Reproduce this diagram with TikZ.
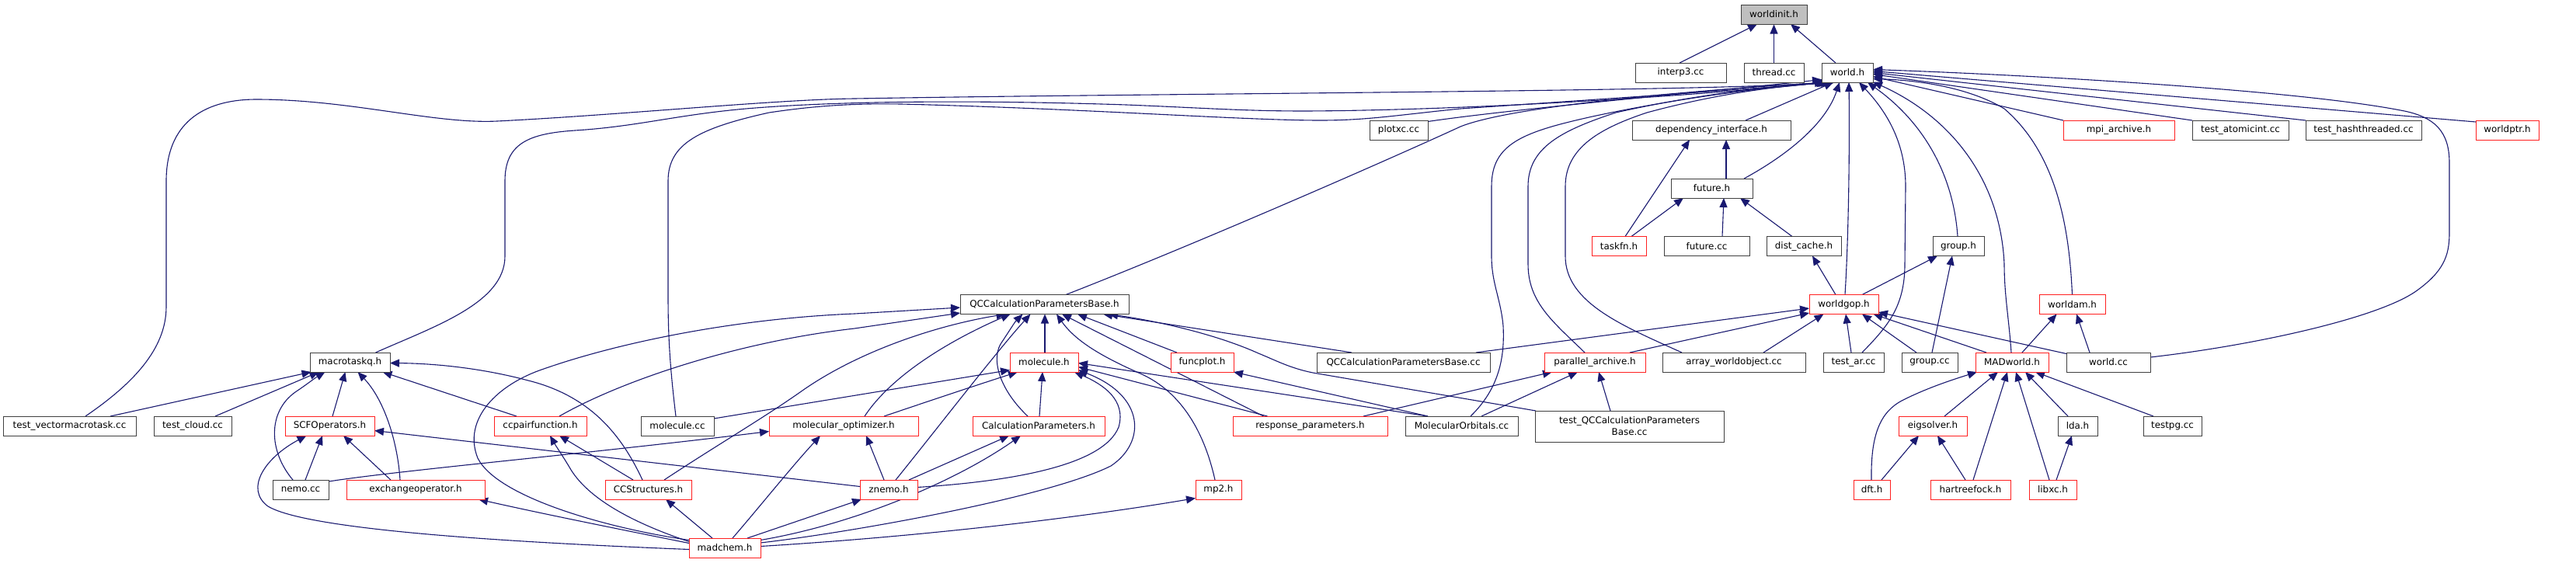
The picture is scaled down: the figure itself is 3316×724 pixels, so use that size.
\documentclass[tikz,border=0pt]{standalone}
\usepackage{fontspec}
\setmainfont{DejaVu Sans}
\usetikzlibrary{calc,arrows.meta}
\definecolor{edgeblue}{HTML}{191970}
\definecolor{boxgray}{HTML}{404040}
\definecolor{rootfill}{HTML}{BFBFBF}
\definecolor{boxred}{HTML}{FF2020}
\pgfdeclarelayer{bg}
\pgfdeclarelayer{edges}
\pgfsetlayers{bg,edges,main}
\tikzset{
 nbox/.style={draw=boxgray, line width=0.5pt, inner sep=0pt, minimum height=12.5pt, fill=white, font=\fontsize{5.95pt}{7.5pt}\selectfont},
 rbox/.style={nbox, draw=boxred},
 conn/.style={draw=edgeblue, line width=0.55pt, -{Triangle[length=6pt,width=5pt]}},
}
\begin{document}
\begin{tikzpicture}[x=0.5pt,y=-0.5pt]
\begin{pgfonlayer}{bg}
\path[use as bounding box, fill=white] (0,0) rectangle (3316,724);
\end{pgfonlayer}
% nodes
\node[nbox, minimum width=42.5pt, fill=rootfill] (worldinit) at (2283.5,18.5) {worldinit.h};
\node[nbox, minimum width=58.5pt] (interp3) at (2163.5,93.5) {interp3.cc};
\node[nbox, minimum width=38.5pt] (thread) at (2283.5,93.5) {thread.cc};
\node[nbox, minimum width=33pt] (worldh) at (2378,93.5) {world.h};
\node[nbox, minimum width=37.5pt] (plotxc) at (1800.5,167.5) {plotxc.cc};
\node[nbox, minimum width=102pt] (depint) at (2203,167.5) {dependency\_interface.h};
\node[rbox, minimum width=71.5pt] (mpiarch) at (2727.5,167.5) {mpi\_archive.h};
\node[nbox, minimum width=62pt] (testatomic) at (2884,167.5) {test\_atomicint.cc};
\node[nbox, minimum width=74.5pt] (testhash) at (3042.5,167.5) {test\_hashthreaded.cc};
\node[rbox, minimum width=40.5pt] (worldptr) at (3227.5,167.5) {worldptr.h};
\node[nbox, minimum width=52.5pt] (futureh) at (2203.5,242.5) {future.h};
\node[rbox, minimum width=35pt] (taskfn) at (2084,317) {taskfn.h};
\node[nbox, minimum width=55pt] (futurecc) at (2197,317) {future.cc};
\node[nbox, minimum width=48pt] (distcache) at (2322,317) {dist\_cache.h};
\node[nbox, minimum width=33pt] (grouph) at (2521,317) {group.h};
\node[nbox, minimum width=108.5pt] (qcbase) at (1344.5,392) {QCCalculationParametersBase.h};
\node[rbox, minimum width=44.5pt] (worldgop) at (2373.5,392) {worldgop.h};
\node[rbox, minimum width=42.5pt] (worldam) at (2667.5,392) {worldam.h};
\node[nbox, minimum width=51.5pt] (macrotaskq) at (450.5,466.5) {macrotaskq.h};
\node[rbox, minimum width=44pt] (moleculeh) at (1344,466.5) {molecule.h};
\node[rbox, minimum width=40.5pt] (funcplot) at (1547.5,466.5) {funcplot.h};
\node[nbox, minimum width=111.5pt] (qcbasecc) at (1806.5,466.5) {QCCalculationParametersBase.cc};
\node[rbox, minimum width=65pt] (pararch) at (2053,466.5) {parallel\_archive.h};
\node[nbox, minimum width=92pt] (arrayworld) at (2232,466.5) {array\_worldobject.cc};
\node[nbox, minimum width=39pt] (testar) at (2386,466.5) {test\_ar.cc};
\node[nbox, minimum width=36pt] (groupcc) at (2484,466.5) {group.cc};
\node[rbox, minimum width=47pt] (madworld) at (2590,466.5) {MADworld.h};
\node[nbox, minimum width=54pt] (worldcc) at (2714,466.5) {world.cc};
\node[nbox, minimum width=85.5pt] (testvec) at (89.5,548.5) {test\_vectormacrotask.cc};
\node[nbox, minimum width=50pt] (testcloud) at (248,548.5) {test\_cloud.cc};
\node[rbox, minimum width=57.5pt] (scfop) at (424.5,548.5) {SCFOperators.h};
\node[rbox, minimum width=59.5pt] (ccpair) at (695.5,548.5) {ccpairfunction.h};
\node[nbox, minimum width=47pt] (moleculecc) at (872,548.5) {molecule.cc};
\node[rbox, minimum width=96pt] (molopt) at (1086,548.5) {molecular\_optimizer.h};
\node[rbox, minimum width=85pt] (calcparam) at (1337,548.5) {CalculationParameters.h};
\node[rbox, minimum width=99.5pt] (respparam) at (1686.5,548.5) {response\_parameters.h};
\node[nbox, minimum width=72.5pt] (molorb) at (1881.5,548.5) {MolecularOrbitals.cc};
\node[nbox, minimum width=121.5pt, minimum height=20pt, align=center] (testqcbase) at (2097.5,549) {test\_QCCalculationParameters\\Base.cc};
\node[rbox, minimum width=44pt] (eigsolver) at (2488,548.5) {eigsolver.h};
\node[nbox, minimum width=25.5pt] (lda) at (2674.5,548.5) {lda.h};
\node[nbox, minimum width=37.5pt] (testpg) at (2796.5,548.5) {testpg.cc};
\node[nbox, minimum width=36pt] (nemocc) at (387,630.5) {nemo.cc};
\node[rbox, minimum width=89pt] (exchop) at (535,630.5) {exchangeoperator.h};
\node[rbox, minimum width=55.5pt] (ccstruct) at (834.5,630.5) {CCStructures.h};
\node[rbox, minimum width=37pt] (znemo) at (1144,630.5) {znemo.h};
\node[rbox, minimum width=29.5pt] (mp2) at (1568.5,630.5) {mp2.h};
\node[rbox, minimum width=23.5pt] (dft) at (2409.5,630.5) {dft.h};
\node[rbox, minimum width=51.5pt] (hartree) at (2536.5,630.5) {hartreefock.h};
\node[rbox, minimum width=30.5pt] (libxc) at (2642.5,630.5) {libxc.h};
\node[rbox, minimum width=46pt] (madchem) at (933,705.5) {madchem.h};

\begin{pgfonlayer}{edges}
% into worldinit.h
\draw[conn] ($(interp3)+(-1.5,-12.5)$) -- ($(worldinit)+(-21.5,12.5)$);
\draw[conn] (thread.north) -- (worldinit.south);
\draw[conn] ($(worldh)+(-15,-12.5)$) -- ($(worldinit)+(21.5,12.5)$);
% into world.h
\draw[conn] ($(plotxc)+(37.5,-11)$) .. controls (1950,140) and (2200,118) .. ($(worldh)+(-33,9)$);
\draw[conn] ($(testvec)+(20.5,-12.5)$) .. controls (170,495) and (214,450) .. (214,395) -- (214,233) .. controls (214,160) and (260,128) .. (330,128) .. controls (450,128) and (560,160) .. (640,156) .. controls (800,148) and (1000,128) .. (1100,127) .. controls (1500,120) and (2200,118) .. ($(worldh)+(-30,12.5)$);
\draw[conn] ($(macrotaskq)+(33,-12.5)$) .. controls (560,420) and (650,390) .. (650,330) -- (650,233) .. controls (650,185) and (680,172) .. (740,168) .. controls (820,163) and (870,148) .. (960,140) .. controls (1100,128) and (1300,130) .. (1450,135) .. controls (1550,139) and (1600,143) .. (1680,143) .. controls (1900,142) and (2200,122) .. ($(worldh)+(-28,12.5)$);
\draw[conn] ($(moleculecc)+(-2,-12.5)$) .. controls (862,470) and (860,430) .. (860,380) -- (860,233) .. controls (860,185) and (900,165) .. (990,145) .. controls (1050,136) and (1100,133) .. (1160,134) .. controls (1400,140) and (1600,155) .. (1700,155) .. controls (1760,155) and (1800,148) .. (1880,140) .. controls (2100,125) and (2250,115) .. ($(worldh)+(-26,12.5)$);
\draw[conn] ($(qcbase)+(27.5,-12.5)$) .. controls (1550,310) and (1800,200) .. (1880,163) .. controls (1950,135) and (2200,115) .. ($(worldh)+(-24,12.5)$);
\draw[conn] ($(depint)+(44,-12.5)$) -- ($(worldh)+(-18,12.5)$);
\draw[conn] ($(futureh)+(41.5,-12.5)$) .. controls (2300,200) and (2350,160) .. ($(worldh)+(-10,12.5)$);
\draw[conn] ($(worldgop)+(1.5,-12.5)$) .. controls (2380,300) and (2381,180) .. ($(worldh)+(2,12.5)$);
\draw[conn] ($(testar)+(11,-12.5)$) .. controls (2430,420) and (2452,395) .. (2452,340) -- (2453,240) .. controls (2453,180) and (2425,140) .. ($(worldh)+(15,12.5)$);
\draw[conn] ($(grouph)+(-1,-12.5)$) .. controls (2515,230) and (2480,160) .. ($(worldh)+(26,12.5)$);
\draw[conn] ($(madworld)+(-1,-12.5)$) .. controls (2586,410) and (2580,380) .. (2580,340) .. controls (2575,230) and (2510,150) .. ($(worldh)+(33,12)$);
\draw[conn] ($(worldam)+(0,-12.5)$) .. controls (2664,300) and (2650,200) .. (2580,140) .. controls (2530,110) and (2460,103) .. ($(worldh)+(33,8)$);
\draw[conn] ($(worldcc)+(54,-6.5)$) .. controls (2900,445) and (3060,410) .. (3110,375) .. controls (3145,350) and (3153,330) .. (3153,300) -- (3153,210) .. controls (3153,170) and (3135,150) .. (3090,142) .. controls (2950,115) and (2600,96) .. ($(worldh)+(33,-4)$);
\draw[conn] ($(mpiarch)+(-71.5,-12.5)$) -- ($(worldh)+(33,5)$);
\draw[conn] ($(testatomic)+(-62,-12.5)$) -- ($(worldh)+(33,2)$);
\draw[conn] ($(testhash)+(-74.5,-12.5)$) -- ($(worldh)+(33,0)$);
\draw[conn] ($(worldptr)+(-40.5,-10.5)$) -- ($(worldh)+(33,-2)$);
\draw[conn] ($(molorb)+(11.5,-12.5)$) .. controls (1930,500) and (1937,460) .. (1935,420) .. controls (1932,385) and (1920,365) .. (1920,330) -- (1920,240) .. controls (1920,185) and (1960,170) .. (2050,150) .. controls (2180,122) and (2300,110) .. ($(worldh)+(-22,12.5)$);
\draw[conn] ($(pararch)+(-13,-12.5)$) .. controls (2000,415) and (1967,390) .. (1967,340) -- (1967,240) .. controls (1967,190) and (2010,168) .. (2080,145) .. controls (2200,118) and (2300,110) .. ($(worldh)+(-20,12.5)$);
\draw[conn] ($(arrayworld)+(-67,-12.5)$) .. controls (2090,420) and (2015,390) .. (2015,330) -- (2015,240) .. controls (2015,190) and (2060,165) .. (2120,145) .. controls (2220,118) and (2300,110) .. ($(worldh)+(-16,12.5)$);
% dependency_interface / future
\draw[conn] ($(futureh)+(18.5,-12.5)$) -- ($(depint)+(19,12.5)$);
\draw[conn] ($(taskfn)+(8,-12.5)$) -- ($(depint)+(-28,12.5)$);
\draw[conn] ($(taskfn)+(16,-12.5)$) -- ($(futureh)+(-36.5,12.5)$);
\draw[conn] ($(futurecc)+(20,-12.5)$) -- ($(futureh)+(15.5,12.5)$);
\draw[conn] ($(distcache)+(-15,-12.5)$) -- ($(futureh)+(36.5,12.5)$);
\draw[conn] ($(worldgop)+(-10.5,-12.5)$) -- ($(distcache)+(11,12.5)$);
\draw[conn] ($(worldgop)+(23.5,-12.5)$) -- ($(grouph)+(-27,12.5)$);
\draw[conn] ($(groupcc)+(3,-12.5)$) -- ($(grouph)+(-8,12.5)$);
% into worldgop.h
\draw[conn] ($(qcbasecc)+(93.5,-12.5)$) -- ($(worldgop)+(-44.5,5)$);
\draw[conn] ($(pararch)+(45,-12.5)$) -- ($(worldgop)+(-44.5,11)$);
\draw[conn] ($(arrayworld)+(38,-12.5)$) -- ($(worldgop)+(-26,12.5)$);
\draw[conn] ($(testar)+(-3,-12.5)$) -- ($(worldgop)+(2.5,12.5)$);
\draw[conn] ($(groupcc)+(-17,-12.5)$) -- ($(worldgop)+(23.5,12.5)$);
\draw[conn] ($(madworld)+(-33,-12.5)$) -- ($(worldgop)+(38,12.5)$);
\draw[conn] ($(worldcc)+(-54,-11)$) -- ($(worldgop)+(44.5,10)$);
% worldam.h
\draw[conn] ($(madworld)+(13,-12.5)$) -- ($(worldam)+(-20,12.5)$);
\draw[conn] ($(worldcc)+(-24,-12.5)$) -- ($(worldam)+(5.5,12.5)$);
% into MADworld.h
\draw[conn] ($(dft)+(-0.5,-12.5)$) .. controls (2408,560) and (2420,530) .. (2450,515) .. controls (2480,500) and (2510,490) .. ($(madworld)+(-45,12.5)$);
\draw[conn] ($(eigsolver)+(15,-12.5)$) -- ($(madworld)+(-18,12.5)$);
\draw[conn] ($(hartree)+(3.5,-12.5)$) -- ($(madworld)+(-6,12.5)$);
\draw[conn] ($(libxc)+(-4.5,-12.5)$) -- ($(madworld)+(5,12.5)$);
\draw[conn] ($(lda)+(-12.5,-12.5)$) -- ($(madworld)+(17,12.5)$);
\draw[conn] ($(testpg)+(-24.5,-12.5)$) -- ($(madworld)+(30,12.5)$);
\draw[conn] ($(dft)+(12.5,-12.5)$) -- ($(eigsolver)+(-18,12.5)$);
\draw[conn] ($(hartree)+(-6.5,-12.5)$) -- ($(eigsolver)+(6,12.5)$);
\draw[conn] ($(libxc)+(4.5,-12.5)$) -- ($(lda)+(-7.5,12.5)$);
% into parallel_archive.h
\draw[conn] ($(respparam)+(68.5,-12.5)$) -- ($(pararch)+(-55,12.5)$);
\draw[conn] ($(molorb)+(25.5,-12.5)$) -- ($(pararch)+(-22,12.5)$);
\draw[conn] ($(testqcbase)+(-24.5,-20)$) -- ($(pararch)+(5,12.5)$);
% into QCCalculationParametersBase.h
\draw[conn] ($(ccpair)+(24.5,-12.5)$) .. controls (800,490) and (950,440) .. (1100,423) -- ($(qcbase)+(-108.5,11)$);
\draw[conn] ($(madchem)+(-46,-10)$) .. controls (780,680) and (640,640) .. (615,590) .. controls (595,540) and (640,495) .. (700,475) .. controls (800,440) and (950,410) .. (1100,404) -- ($(qcbase)+(-108.5,4)$);
\draw[conn] ($(ccstruct)+(20.5,-12.5)$) .. controls (920,575) and (980,540) .. (1030,505) .. controls (1100,455) and (1200,420) .. ($(qcbase)+(-50,12.5)$);
\draw[conn] ($(molopt)+(27,-12.5)$) .. controls (1150,480) and (1230,435) .. ($(qcbase)+(-44,12.5)$);
\draw[conn] ($(znemo)+(9,-12.5)$) .. controls (1200,560) and (1285,450) .. ($(qcbase)+(-18,12.5)$);
\draw[conn] ($(calcparam)+(-14,-12.5)$) .. controls (1285,500) and (1275,460) .. (1290,440) .. controls (1300,425) and (1306,415) .. ($(qcbase)+(-28,12.5)$);
\draw[conn] ($(moleculeh)+(1,-12.5)$) -- ($(qcbase)+(0.5,12.5)$);
\draw[conn] ($(mp2)+(-4.5,-12.5)$) .. controls (1550,555) and (1520,505) .. (1470,482) .. controls (1420,460) and (1385,440) .. ($(qcbase)+(15.5,12.5)$);
\draw[conn] ($(respparam)+(-60,-12.5)$) -- ($(qcbase)+(22.5,12.5)$);
\draw[conn] ($(funcplot)+(-32.5,-12.5)$) -- ($(qcbase)+(42.5,12.5)$);
\draw[conn] ($(qcbasecc)+(-66.5,-12.5)$) -- ($(qcbase)+(75.5,12.5)$);
\draw[conn] ($(testqcbase)+(-120.5,-20)$) -- (1690,480) .. controls (1660,474) and (1640,463) .. (1620,455) .. controls (1560,428) and (1480,412) .. ($(qcbase)+(82.5,12.5)$);
% into molecule.h
\draw[conn] ($(moleculecc)+(47,-9.5)$) -- ($(moleculeh)+(-44,10)$);
\draw[conn] ($(molopt)+(52,-12.5)$) .. controls (1200,515) and (1260,495) .. ($(moleculeh)+(-34,12.5)$);
\draw[conn] ($(calcparam)+(1,-12.5)$) -- ($(moleculeh)+(-2,12.5)$);
\draw[conn] ($(znemo)+(37,-3)$) .. controls (1300,620) and (1420,600) .. (1440,550) .. controls (1450,515) and (1420,495) .. ($(moleculeh)+(39,12.5)$);
\draw[conn] ($(madchem)+(46,-6.5)$) .. controls (1100,685) and (1350,640) .. (1430,600) .. controls (1475,570) and (1475,510) .. ($(moleculeh)+(44,10)$);
\draw[conn] ($(molorb)+(-43.5,-12.5)$) -- ($(moleculeh)+(44,1)$);
\draw[conn] ($(respparam)+(-55,-12.5)$) -- ($(moleculeh)+(44,6)$);
\draw[conn] ($(molorb)+(-43.5,-12.5)$) -- ($(funcplot)+(40.5,12.5)$);
% into molecular_optimizer.h
\draw[conn] ($(madchem)+(10,-12.5)$) .. controls (980,650) and (1020,600) .. ($(molopt)+(-30,12.5)$);
\draw[conn] ($(znemo)+(-6,-12.5)$) -- ($(molopt)+(29,12.5)$);
\draw[conn] ($(nemocc)+(36,-10.5)$) .. controls (520,605) and (750,585) .. ($(molopt)+(-96,7)$);
% into CalculationParameters.h, mp2.h, znemo.h
\draw[conn] ($(madchem)+(46,-10)$) .. controls (1100,675) and (1230,620) .. ($(calcparam)+(-23,12.5)$);
\draw[conn] ($(znemo)+(26,-12.5)$) -- ($(calcparam)+(-38,12.5)$);
\draw[conn] ($(madchem)+(46,-2)$) .. controls (1200,690) and (1400,665) .. ($(mp2)+(-29.5,11)$);
\draw[conn] ($(madchem)+(29,-12.5)$) -- ($(znemo)+(-35,12.5)$);
% into SCFOperators.h
\draw[conn] ($(znemo)+(-37,-4)$) -- ($(scfop)+(57.5,6)$);
\draw[conn] ($(nemocc)+(6,-12.5)$) -- ($(scfop)+(-9.5,12.5)$);
\draw[conn] ($(exchop)+(-32,-12.5)$) -- ($(scfop)+(17.5,12.5)$);
\draw[conn] ($(madchem)+(-46,2)$) .. controls (700,700) and (400,685) .. (345,652) .. controls (315,630) and (340,590) .. ($(scfop)+(-30,12.5)$);
% into macrotaskq.h
\draw[conn] ($(testvec)+(52.5,-12.5)$) -- ($(macrotaskq)+(-50,12.5)$);
\draw[conn] ($(testcloud)+(29,-12.5)$) -- ($(macrotaskq)+(-40,12.5)$);
\draw[conn] ($(nemocc)+(-10,-12.5)$) .. controls (345,580) and (345,530) .. (380,505) .. controls (395,495) and (405,487) .. ($(macrotaskq)+(-32,12.5)$);
\draw[conn] ($(scfop)+(3.5,-12.5)$) -- ($(macrotaskq)+(-6,12.5)$);
\draw[conn] ($(exchop)+(-20,-12.5)$) .. controls (512,570) and (495,515) .. ($(macrotaskq)+(10,12.5)$);
\draw[conn] ($(ccpair)+(-30.5,-12.5)$) -- ($(macrotaskq)+(42,12.5)$);
\draw[conn] ($(ccstruct)+(-7.5,-12.5)$) .. controls (800,560) and (760,510) .. (680,490) .. controls (620,474) and (560,468) .. ($(macrotaskq)+(51.5,1)$);
% into ccpairfunction.h, exchangeoperator.h, CCStructures.h
\draw[conn] ($(ccstruct)+(-19.5,-12.5)$) -- ($(ccpair)+(24.5,12.5)$);
\draw[conn] ($(madchem)+(-46,-8)$) .. controls (820,675) and (760,645) .. (735,605) .. controls (725,588) and (716,575) .. ($(ccpair)+(12.5,12.5)$);
\draw[conn] ($(madchem)+(-46,-6)$) .. controls (800,682) and (700,662) .. ($(exchop)+(81,12.5)$);
\draw[conn] ($(madchem)+(-16,-12.5)$) -- ($(ccstruct)+(22.5,12.5)$);
\end{pgfonlayer}
\end{tikzpicture}
\end{document}
